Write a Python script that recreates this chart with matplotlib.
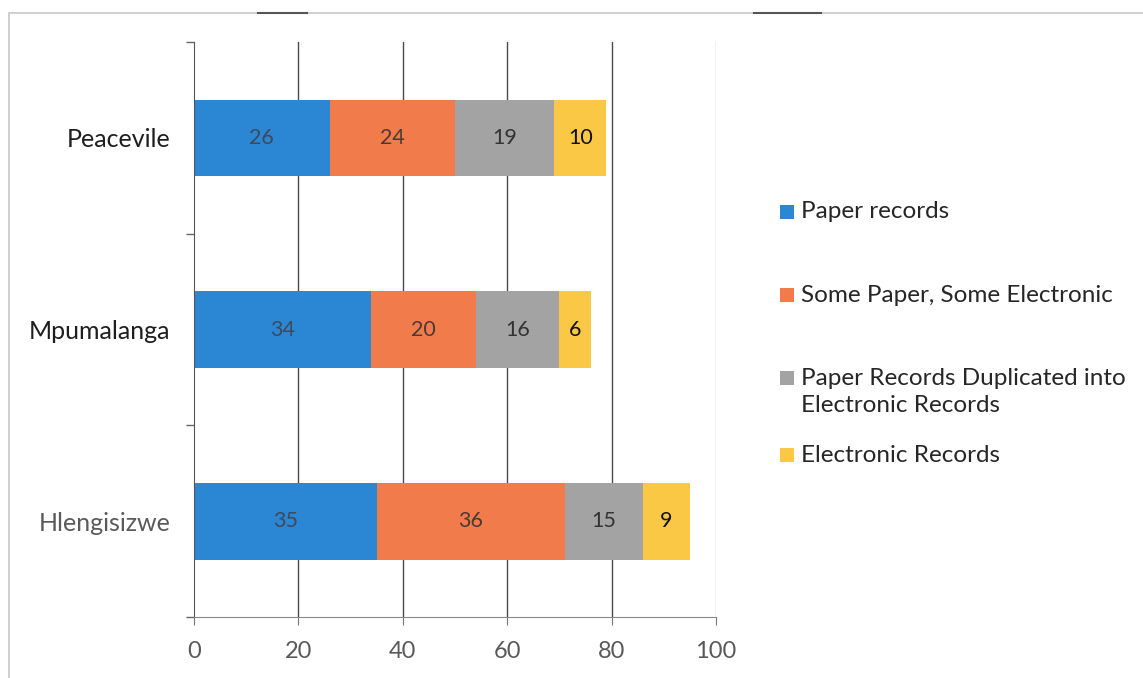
import matplotlib.pyplot as plt
from matplotlib.patches import Rectangle
from matplotlib.lines import Line2D
import numpy as np

# Record-keeping method counts per site
sites = ['Hlengisizwe', 'Mpumalanga', 'Peacevile']
series_names = ['Paper records', 'Some Paper, Some Electronic',
                'Paper Records Duplicated into\nElectronic Records', 'Electronic Records']
paper = [35, 34, 26]
some_both = [36, 20, 24]
duplicated = [15, 16, 19]
electronic = [9, 6, 10]

colors = ['#2b86d3', '#f27b4b', '#a3a3a3', '#fbc845']
label_colors = ['#3d4a5c', '#4a3a35', '#333333', '#111111']
site_colors = ['#5a5a5a', '#1e1e1e', '#1e1e1e']

plt.rcParams['font.family'] = ['Lato', 'DejaVu Sans']

W, H = 1143, 678
fig = plt.figure(figsize=(W / 100, H / 100), dpi=100)
ax = fig.add_axes([194 / W, 1 - 617 / H, (716 - 194) / W, (617 - 42) / H])

# Light frame around the chart area, a bit darker in spots along the top
top = 1 - 13 / H
fig.patches.append(Rectangle((9 / W, -0.05), 1.05, top + 0.05, transform=fig.transFigure,
                             fill=False, edgecolor='#cccccc', linewidth=1.3))
for x0, x1 in [(258, 307), (754, 821)]:
    fig.lines.append(Line2D([x0 / W, x1 / W], [top, top], transform=fig.transFigure,
                            color='#555555', linewidth=1.5))

y = np.arange(len(sites))
left = np.zeros(len(sites))
for vals, col, lcol, name in zip([paper, some_both, duplicated, electronic],
                                 colors, label_colors, series_names):
    bars = ax.barh(y, vals, left=left, height=0.40, color=col, label=name)
    ax.bar_label(bars, labels=[str(v) for v in vals], label_type='center',
                 fontsize=15.5, color=lcol)
    left += np.array(vals)

ax.set_xlim(0, 100)
ax.set_ylim(-0.5, 2.5)
ax.set_xticks(np.arange(0, 101, 20))
ax.set_yticks(y)
ax.set_yticklabels(sites, fontsize=18)
for lbl, c in zip(ax.get_yticklabels(), site_colors):
    lbl.set_color(c)

ax.set_yticks([-0.5, 0.5, 1.5, 2.5], minor=True)
ax.tick_params(axis='y', which='major', length=0, pad=17)
ax.tick_params(axis='y', which='minor', length=6, color='#666666', width=1)
ax.tick_params(axis='x', length=6, color='#777777', labelsize=17,
               labelcolor='#595959', pad=11)

# Vertical gridlines
ax.set_axisbelow(True)
for xv in [20, 40, 60, 80]:
    ax.axvline(xv, color='#4a4a4a', linewidth=1, zorder=0)
ax.axvline(100, color='#bdbdbd', linewidth=1, zorder=0)

for side in ['top', 'right']:
    ax.spines[side].set_visible(False)
ax.spines['left'].set_color('#555555')
ax.spines['bottom'].set_color('#8a8a8a')

# Legend, laid out by hand
text_y = [212, 295, 392, 455]
marker_y = [212, 295, 378, 455]
for name, col, ty, my in zip(series_names, colors, text_y, marker_y):
    fig.patches.append(Rectangle((780 / W, 1 - (my + 7) / H), 14 / W, 14 / H,
                                 transform=fig.transFigure, facecolor=col, edgecolor='none'))
    fig.text(801 / W, 1 - ty / H, name, fontsize=17.5, color='#262626',
             va='center', ha='left', linespacing=1.3)

fig.savefig('out.png', dpi=100, facecolor='white')
